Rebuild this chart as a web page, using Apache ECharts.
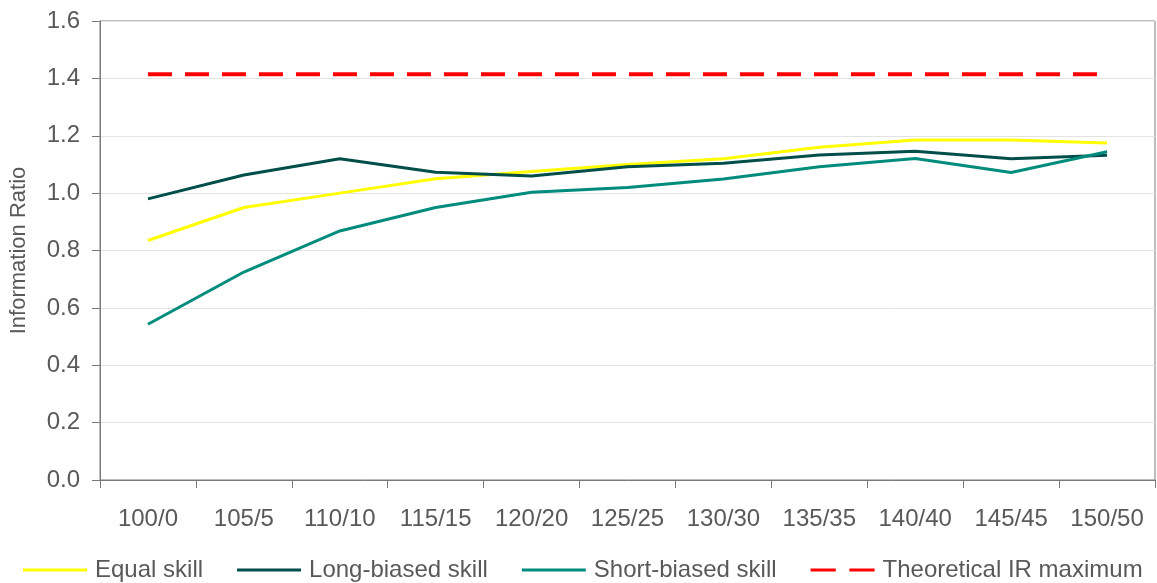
<!DOCTYPE html>
<html>
<head>
<meta charset="utf-8">
<script src="https://cdn.jsdelivr.net/npm/echarts@6/dist/echarts.min.js"></script>
<style>
  html, body { margin: 0; padding: 0; background: #fff; }
  #chart { width: 1157px; height: 583px; }
</style>
</head>
<body>
<div id="chart"></div>
<script>
// Long/short extension ratios on the category axis
var categories = ['100/0', '105/5', '110/10', '115/15', '120/20', '125/25', '130/30', '135/35', '140/40', '145/45', '150/50'];

// Information ratio by skill assumption
var equalSkill = [0.835, 0.95, 1.00, 1.05, 1.075, 1.10, 1.12, 1.16, 1.185, 1.185, 1.175];
var longBiasedSkill = [0.98, 1.063, 1.12, 1.073, 1.06, 1.092, 1.104, 1.133, 1.146, 1.12, 1.132];
var shortBiasedSkill = [0.543, 0.725, 0.868, 0.95, 1.003, 1.02, 1.049, 1.092, 1.121, 1.072, 1.144];
var theoreticalMax = [1.414, 1.414, 1.414, 1.414, 1.414, 1.414, 1.414, 1.414, 1.414, 1.414, 1.414];

var yTicks = { min: 0, max: 1.6, interval: 0.2 };

var textColor = '#595959';
var fontFamily = '"Liberation Sans", Arial, sans-serif';

// Legend swatches: a plain bar for solid lines, two dashes for the dashed one
var solidIcon = 'path://M0,0H64V3H0Z';
var dashedIcon = 'path://M0,0H24V3H0Z M37,0H61V3H37Z';

var chart = echarts.init(document.getElementById('chart'), null, { renderer: 'canvas' });

function lineSeries(name, data, color, type, width) {
  return {
    name: name,
    type: 'line',
    data: data,
    symbol: 'none',
    smooth: false,
    lineStyle: { color: color, width: width, type: type },
    itemStyle: { color: color },
    emphasis: { disabled: true }
  };
}

chart.setOption({
  animation: false,
  backgroundColor: '#ffffff',
  textStyle: { fontFamily: fontFamily },
  grid: {
    left: 100, right: 2, top: 21, bottom: 103,
    show: true, borderColor: '#7a7a7a', borderWidth: 1,
    backgroundColor: '#ffffff'
  },
  legend: {
    left: 23, top: 558, padding: 0,
    itemWidth: 64, itemHeight: 4, itemGap: 34,
    textStyle: { color: textColor, fontSize: 24, fontFamily: fontFamily, padding: [0, 0, 0, 3] },
    data: [
      { name: 'Equal skill', icon: solidIcon, itemStyle: { color: '#ffff00' } },
      { name: 'Long-biased skill', icon: solidIcon, itemStyle: { color: '#004e4a' } },
      { name: 'Short-biased skill', icon: solidIcon, itemStyle: { color: '#008c7d' } },
      { name: 'Theoretical IR maximum', icon: dashedIcon, itemStyle: { color: '#ff0000' } }
    ]
  },
  xAxis: {
    type: 'category',
    data: categories,
    boundaryGap: true,
    axisLine: { lineStyle: { color: '#7a7a7a', width: 1 } },
    axisTick: { show: true, length: 8, inside: false, lineStyle: { color: '#7a7a7a' } },
    axisLabel: { color: textColor, fontSize: 24, margin: 27, fontFamily: fontFamily },
    splitLine: { show: false }
  },
  yAxis: {
    type: 'value',
    min: yTicks.min, max: yTicks.max, interval: yTicks.interval,
    name: 'Information Ratio',
    nameLocation: 'middle',
    nameGap: 70,
    nameRotate: 90,
    nameTextStyle: { color: textColor, fontSize: 22, fontFamily: fontFamily },
    axisLine: { show: true, lineStyle: { color: '#7a7a7a', width: 1 } },
    axisTick: { show: true, length: 8, inside: false, lineStyle: { color: '#7a7a7a' } },
    axisLabel: {
      color: textColor, fontSize: 24, margin: 20, fontFamily: fontFamily,
      formatter: function (v) { return v.toFixed(1); }
    },
    splitLine: { show: true, lineStyle: { color: '#e3e3e3', width: 1 } }
  },
  series: [
    lineSeries('Equal skill', equalSkill, '#ffff00', 'solid', 3),
    lineSeries('Long-biased skill', longBiasedSkill, '#004e4a', 'solid', 3),
    lineSeries('Short-biased skill', shortBiasedSkill, '#008c7d', 'solid', 3),
    lineSeries('Theoretical IR maximum', theoreticalMax, '#ff0000', [24, 13], 4)
  ]
});
</script>
</body>
</html>
